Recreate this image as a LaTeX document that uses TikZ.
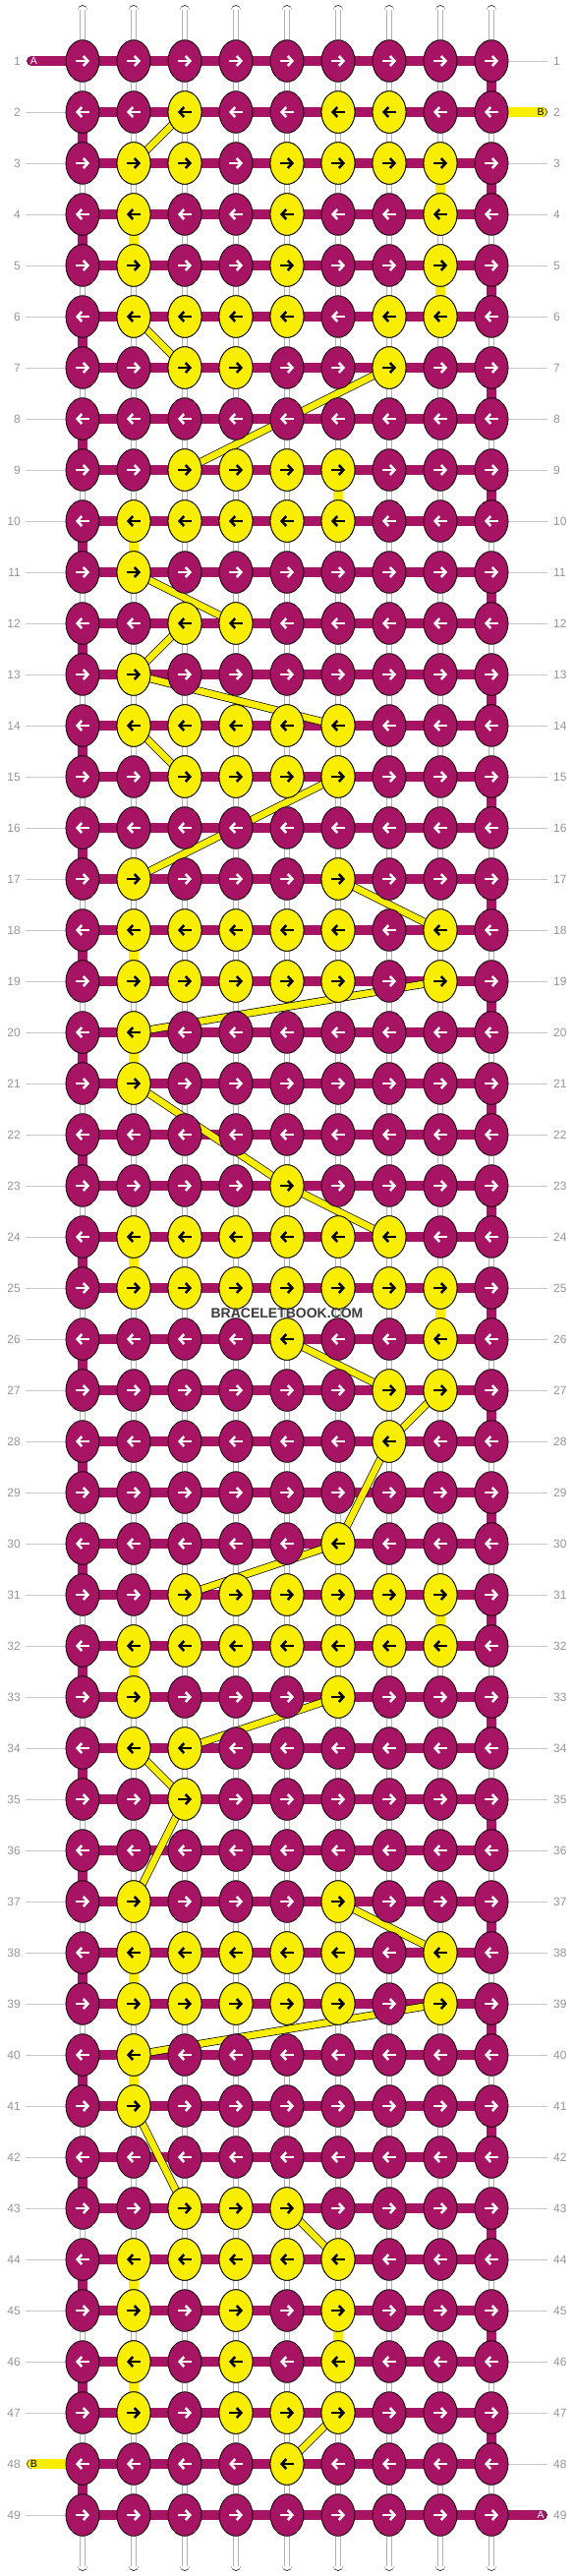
\documentclass[tikz,border=0pt]{standalone}
\usepackage{fontspec}
\setmainfont{Liberation Sans}
\usetikzlibrary{arrows.meta,shapes.geometric}
\definecolor{mag}{RGB}{168,20,100}
\definecolor{yel}{RGB}{250,238,0}
\definecolor{lblgray}{RGB}{150,150,150}
\definecolor{linegray}{RGB}{200,200,200}
\definecolor{wmgray}{RGB}{60,60,60}
\begin{document}
\begin{tikzpicture}[x=1pt,y=-1pt,
  knot/.style={ellipse, draw=black, line width=0.8pt, minimum width=34pt, minimum height=42.6pt, inner sep=0pt},
  mk/.style={knot, fill=mag},
  yk/.style={knot, fill=yel},
  hbar/.style={draw=black, line width=0.75pt, double=#1, double distance=9.2pt},
  tailst/.style={hbar=#1, line cap=round},
  ydiag/.style={draw=black, line width=0.7pt, double=yel, double distance=6.6pt},
  bgstr/.style={draw=black, line width=0.8pt, double=white, double distance=9.2pt, line cap=round},
  bginner/.style={draw=black!30, line width=0.6pt},
  arW/.style={white, line width=2.5pt, -{Straight Barb[length=4.5pt,width=10pt]}},
  arB/.style={arW, draw=black},
  numlbl/.style={text=lblgray, font=\fontsize{12}{14}\selectfont, inner sep=0pt},
  gline/.style={draw=linegray, line width=0.8pt},
  endlbl/.style={font=\fontsize{10.5}{12}\selectfont, inner sep=0pt},
  wm/.style={text=wmgray, font=\bfseries\fontsize{14}{16}\selectfont, inner sep=0pt}
]
\useasboundingbox[fill=white] (0,0) rectangle (584,2620);

% grid coordinates
\foreach \r in {1,...,49}{
  \foreach \c in {1,...,9}{
    \coordinate (p-\r-\c) at ({84+52*(\c-1)},{62+52*(\r-1)});
  }
}
\foreach \c in {1,...,9}{
  \coordinate (top-\c) at ({84+52*(\c-1)},10.5);
  \coordinate (bot-\c) at ({84+52*(\c-1)},2609.5);
}

% row numbers and guide lines
\foreach \r in {1,...,49}{
  \pgfmathtruncatemacro\yy{62+52*(\r-1)}
  \node[numlbl, anchor=east] (ln-\r) at (21,\yy) {\r};
  \node[numlbl, anchor=west] (rn-\r) at (563,\yy) {\r};
  \coordinate (ll-\r) at (26,\yy);
  \coordinate (rl-\r) at (557,\yy);
}
\foreach \r in {1,...,49}{
  \ifnum\r=1\relax\else\ifnum\r=48\relax\else\draw[gline] (ll-\r) -- (p-\r-1);\fi\fi
  \ifnum\r=2\relax\else\ifnum\r=49\relax\else\draw[gline] (p-\r-9) -- (rl-\r);\fi\fi
}

% background strings
\foreach \c in {1,...,9}{
  \draw[bgstr] (top-\c) -- (bot-\c);
  \draw[bginner] ([xshift=-2.6pt]top-\c) -- ([xshift=-2.6pt]bot-\c);
  \draw[bginner] ([xshift=2.6pt]top-\c) -- ([xshift=2.6pt]bot-\c);
}

% edge turns of string A
\foreach \r in {1,3,...,47}{
  \pgfmathtruncatemacro\rn{\r+1}
  \draw[hbar=mag] (p-\r-9) -- (p-\rn-9);
}
\foreach \r in {2,4,...,48}{
  \pgfmathtruncatemacro\rn{\r+1}
  \draw[hbar=mag] (p-\r-1) -- (p-\rn-1);
}

% vertical yellow segments
\foreach \r/\c in {3/8,4/2,5/8,9/6,10/2,18/2,20/2,24/2,25/8,31/8,32/2,38/2,40/2,44/2,45/6,46/2}{
  \pgfmathtruncatemacro\rn{\r+1}
  \draw[hbar=yel] (p-\r-\c) -- (p-\rn-\c);
}

% horizontal rows
\foreach \r in {1,...,49}{
  \draw[hbar=mag] (p-\r-1) -- (p-\r-9);
}

% tails
\coordinate (tA1) at (32.5,62);
\coordinate (tB2) at (551.5,114);
\coordinate (tB48) at (32.5,2506);
\coordinate (tA49) at (551.5,2558);
\draw[tailst=mag] (tA1) -- (p-1-1);
\draw[tailst=yel] (p-2-9) -- (tB2);
\draw[tailst=yel] (tB48) -- (p-48-1);
\draw[tailst=mag] (p-49-9) -- (tA49);

% yellow diagonals
\foreach \ra/\ca/\rb/\cb in {2/3/3/2,6/2/7/3,7/7/9/3,11/2/12/4,12/3/13/2,13/2/14/6,14/2/15/3,15/6/17/2,17/6/18/8,19/8/20/2,21/2/23/5,23/5/24/7,26/5/27/7,27/8/28/7,28/7/30/6,30/6/31/3,33/6/34/3,34/2/35/3,35/3/37/2,37/6/38/8,39/8/40/2,41/2/43/3,43/5/44/6,47/6/48/5}{
  \draw[ydiag] (p-\ra-\ca) -- (p-\rb-\cb);
}

% magenta knots with white arrows
\foreach \r in {1,...,49}{
  \foreach \c in {1,...,9}{
    \node[mk] (k-\r-\c) at (p-\r-\c) {};
    \ifodd\r\relax
      \draw[arW] ([xshift=-7pt]k-\r-\c.center) -- ([xshift=7pt]k-\r-\c.center);
    \else
      \draw[arW] ([xshift=7pt]k-\r-\c.center) -- ([xshift=-7pt]k-\r-\c.center);
    \fi
  }
}

% yellow knots with black arrows
\foreach \r/\cs in {2/{3,6,7},3/{2,3,5,6,7,8},4/{2,5,8},5/{2,5,8},6/{2,3,4,5,7,8},7/{3,4,7},
  9/{3,4,5,6},10/{2,3,4,5,6},11/{2},12/{3,4},13/{2},14/{2,3,4,5,6},15/{3,4,5,6},
  17/{2,6},18/{2,3,4,5,6,8},19/{2,3,4,5,6,8},20/{2},21/{2},23/{5},24/{2,3,4,5,6,7},
  25/{2,3,4,5,6,7,8},26/{5,8},27/{7,8},28/{7},30/{6},31/{3,4,5,6,7,8},32/{2,3,4,5,6,7,8},
  33/{2,6},34/{2,3},35/{3},37/{2,6},38/{2,3,4,5,6,8},39/{2,3,4,5,6,8},40/{2},41/{2},
  43/{3,4,5},44/{2,3,4,5,6},45/{2,4,6},46/{2,4,6},47/{2,4,5,6},48/{5}}{
  \foreach \c in \cs {
    \node[yk] (y-\r-\c) at (p-\r-\c) {};
    \ifodd\r\relax
      \draw[arB] ([xshift=-7pt]y-\r-\c.center) -- ([xshift=7pt]y-\r-\c.center);
    \else
      \draw[arB] ([xshift=7pt]y-\r-\c.center) -- ([xshift=-7pt]y-\r-\c.center);
    \fi
  }
}

% end labels
\node[endlbl, text=white] (lA1) at (34.5,62) {A};
\node[endlbl, text=black] (lB2) at (550,114) {B};
\node[endlbl, text=black] (lB48) at (34.5,2506) {B};
\node[endlbl, text=white] (lA49) at (550,2558) {A};

% watermark
\node[wm] (wmark) at (292,1336) {BRACELETBOOK.COM};
\end{tikzpicture}
\end{document}
